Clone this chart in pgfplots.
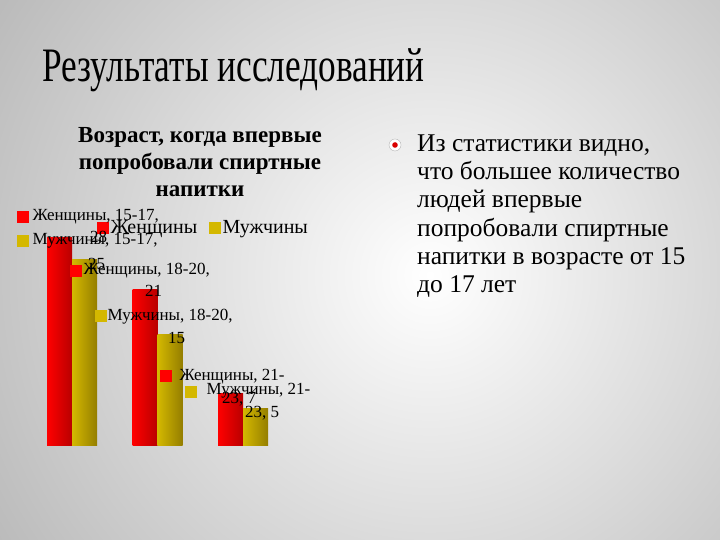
\documentclass[border=0pt]{standalone}
\usepackage{pgfplots}
\pgfplotsset{compat=1.18}
\usepackage{fontspec}
\setmainfont{Liberation Serif}

\definecolor{bgout}{gray}{0.60}
\definecolor{fem}{RGB}{255,0,0}
\definecolor{femdark}{RGB}{185,0,0}
\definecolor{mal}{RGB}{212,184,0}
\definecolor{maldark}{RGB}{148,126,0}

% legend key square inside a data label
\newcommand{\sq}[2]{\textcolor{#1}{\raisebox{#2}{\rule{11.5bp}{11.5bp}}}}

\begin{document}
\begin{tikzpicture}[x=1bp,y=1bp,
    lbl/.style={anchor=base west, inner sep=0pt, font=\fontsize{17bp}{20bp}\selectfont},
    txt/.style={anchor=base west, inner sep=0pt, font=\fontsize{25.5bp}{28bp}\selectfont},
    ctitle/.style={anchor=base, inner sep=0pt, font=\bfseries\fontsize{23bp}{27bp}\selectfont}]

% slide background
\begin{scope}
\clip (0,0) rectangle (720,540);
\shade[inner color=white, outer color=bgout] (430,265) circle (760);
\end{scope}

% slide title
\node[anchor=base west, inner sep=0pt] at (42,458)
  {\scalebox{0.735}[1]{\fontsize{48bp}{56bp}\selectfont Результаты исследований}};

% chart title
\node[ctitle] at (200,397) {Возраст, когда впервые};
\node[ctitle] at (200,370) {попробовали спиртные};
\node[ctitle] at (200,343) {напитки};

\begin{axis}[
    at={(29.25bp,94bp)}, anchor=south west,
    scale only axis, width=256.5bp, height=223.8bp,
    xmin=-0.5, xmax=2.5, ymin=0, ymax=30,
    hide axis, clip=false,
    ybar=0pt, bar width=25bp,
    women/.style={forget plot, draw=none, bar shift=-12.5bp,
        left color=fem, right color=femdark},
    men/.style={forget plot, draw=none, bar shift=12.5bp,
        left color=mal, right color=maldark},
    legend columns=2,
    legend style={at={(0.264,0.976)}, anchor=west, draw=none, fill=none,
        inner sep=0pt, font=\fontsize{20bp}{22bp}\selectfont,
        /tikz/every even column/.append style={column sep=10bp}},
]
\addlegendimage{legend image code/.code={\fill[fem] (0bp,-5.5bp) rectangle (11bp,5.5bp);}}
\addlegendentry{Женщины}
\addlegendimage{legend image code/.code={\fill[mal] (0bp,-5.5bp) rectangle (11bp,5.5bp);}}
\addlegendentry{Мужчины}
% Женщины
\addplot[women] coordinates {(0,28)};
\addplot[women] coordinates {(1,21)};
\addplot[women] coordinates {(2,7)};
% Мужчины
\addplot[men] coordinates {(0,25)};
\addplot[men] coordinates {(1,15)};
\addplot[men] coordinates {(2,5)};
\end{axis}

% data labels
\node[lbl] at (17,319) {\sq{fem}{-2bp}\hspace{4bp}Женщины, 15-17,};
\node[lbl] at (17,295) {\sq{mal}{-2bp}\hspace{4bp}Мужчины, 15-17,};
\node[lbl] at (90,297) {28};
\node[lbl] at (88,270) {25};
\node[lbl] at (70,265) {\sq{fem}{-2bp}\hspace{2bp}Женщины, 18-20,};
\node[lbl] at (145,243) {21};
\node[lbl] at (95,219) {\sq{mal}{-1bp}\hspace{1bp}Мужчины, 18-20,};
\node[lbl] at (168,196) {15};
\node[lbl] at (160,159) {\sq{fem}{-1bp}\hspace{8bp}Женщины, 21-};
\node[lbl] at (185,145) {\sq{mal}{-3bp}\hspace{10bp}Мужчины, 21-};
\node[lbl] at (222,136) {23, 7};
\node[lbl] at (245,122) {23, 5};

% bullet text
\draw[gray!60, fill=white] (395,395) circle (6);
\fill[red!85!black] (395,395) circle (2.8);
\node[txt] at (417,388) {Из статистики видно,};
\node[txt] at (417,360) {что большее количество};
\node[txt] at (417,332) {людей впервые};
\node[txt] at (417,303) {попробовали спиртные};
\node[txt] at (417,275) {напитки в возрасте от 15};
\node[txt] at (417,247) {до 17 лет};

\pgfresetboundingbox
\path[use as bounding box] (0,0) rectangle (720,540);
\end{tikzpicture}
\end{document}
